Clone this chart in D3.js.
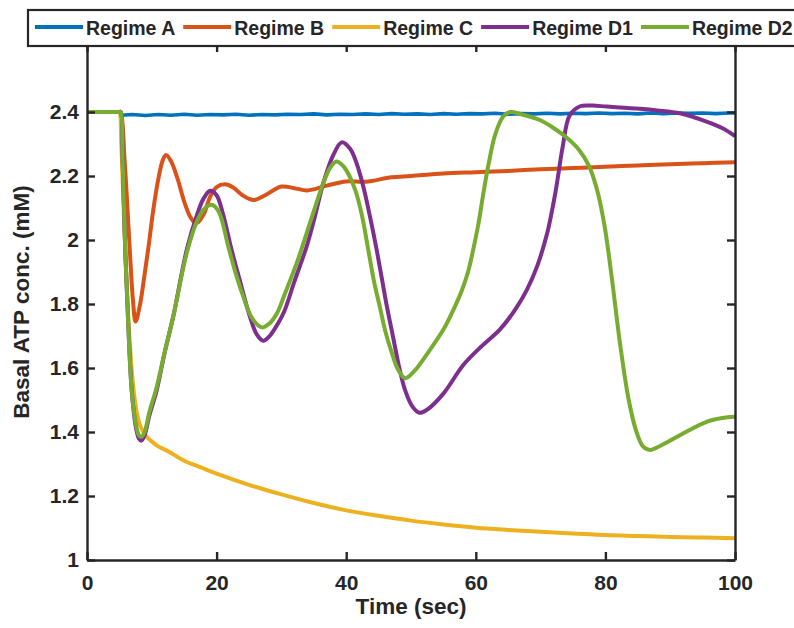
<!DOCTYPE html>
<html>
<head>
<meta charset="utf-8">
<script src="https://cdn.jsdelivr.net/npm/d3@7"></script>
<style>
  body { margin: 0; background: #fff; }
  svg { display: block; overflow: hidden; }
  text { font-family: "Liberation Sans", Arial, sans-serif; font-weight: bold; fill: #262626; }
</style>
</head>
<body>
<div id="chart"></div>
<script>

// Series names and tick labels
var seriesNames = ["Regime A", "Regime B", "Regime C", "Regime D1", "Regime D2"];
var xTicks = [0, 20, 40, 60, 80, 100];
var yTicks = [1, 1.2, 1.4, 1.6, 1.8, 2, 2.2, 2.4];

// Regime A (noisy flat)
var timeA = [0, 5, 5.3, 7, 9, 11, 13, 15, 17, 19, 21, 23, 25, 27, 29, 31, 33, 35, 37, 39, 41, 43, 45, 47, 49, 51, 53, 55, 57, 59, 61, 63, 65, 67, 69, 71, 73, 75, 77, 79, 81, 83, 85, 87, 89, 91, 93, 95, 97, 99, 100];
var valuesA = [2.4, 2.4, 2.39, 2.392, 2.389, 2.392, 2.39, 2.393, 2.39, 2.392, 2.391, 2.393, 2.39, 2.392, 2.391, 2.393, 2.392, 2.394, 2.391, 2.393, 2.392, 2.394, 2.392, 2.395, 2.393, 2.394, 2.392, 2.395, 2.393, 2.395, 2.394, 2.396, 2.393, 2.395, 2.394, 2.396, 2.394, 2.396, 2.395, 2.397, 2.395, 2.396, 2.394, 2.397, 2.395, 2.397, 2.396, 2.397, 2.395, 2.397, 2.397];

// Regime B
var timeB = [0, 4.7, 5.0, 5.2, 5.8, 6.6, 7.1, 7.5, 8.2, 8.8, 9.5, 10.2, 11, 11.7, 12.2, 13, 14, 15, 16, 16.9, 18, 19, 20, 21.3, 22.5, 24, 25.7, 27.5, 30, 32, 34, 37, 40, 43, 47, 50, 55, 60, 65, 70, 75, 80, 85, 90, 95, 100];
var valuesB = [2.4, 2.4, 2.4, 2.4, 2.25, 1.97, 1.81, 1.745, 1.8, 1.88, 1.98, 2.09, 2.19, 2.25, 2.266, 2.245, 2.19, 2.12, 2.07, 2.052, 2.08, 2.135, 2.165, 2.174, 2.165, 2.14, 2.125, 2.14, 2.167, 2.162, 2.155, 2.17, 2.183, 2.182, 2.196, 2.2, 2.208, 2.212, 2.216, 2.221, 2.225, 2.229, 2.233, 2.237, 2.24, 2.243];

// Regime C
var timeC = [0, 4.5, 4.8, 5, 5.3, 5.8, 6.4, 7, 7.6, 8.2, 9, 10, 11, 12.5, 15, 17.5, 20, 25, 30, 35, 40, 45, 50, 55, 60, 65, 70, 75, 80, 85, 90, 95, 100];
var valuesC = [2.4, 2.4, 2.4, 2.4, 2.3, 2.02, 1.75, 1.57, 1.47, 1.42, 1.39, 1.37, 1.355, 1.34, 1.31, 1.29, 1.27, 1.235, 1.205, 1.178, 1.155, 1.138, 1.123, 1.111, 1.101, 1.094, 1.088, 1.083, 1.078, 1.075, 1.072, 1.07, 1.068];

// Regime D1
var timeD1 = [0, 4.7, 5.0, 5.2, 5.5, 5.9, 6.4, 6.9, 7.5, 8, 8.4, 8.9, 9.6, 10.75, 12, 13.3, 15.4, 17, 18, 19, 20, 21, 22.3, 23.5, 25, 26.2, 27.2, 28.2, 29.5, 30.5, 32, 33.9, 35, 36.5, 38, 39.3, 40.6, 41.6, 42.6, 43.6, 44.6, 45.5, 46.3, 47.2, 48.2, 49.1, 50.2, 51.3, 52.5, 55, 58.1, 61, 63.7, 66, 67.9, 69.5, 71, 72.3, 73.4, 74.5, 76.1, 78, 80.2, 85.3, 88, 91.5, 95.6, 98, 100];
var valuesD1 = [2.4, 2.4, 2.4, 2.4, 2.25, 1.97, 1.72, 1.53, 1.42, 1.38, 1.373, 1.39, 1.45, 1.53, 1.65, 1.76, 1.97, 2.08, 2.13, 2.154, 2.14, 2.08, 1.97, 1.88, 1.77, 1.705, 1.685, 1.7, 1.74, 1.78, 1.87, 1.98, 2.06, 2.18, 2.265, 2.305, 2.285, 2.24, 2.17, 2.08, 1.98, 1.88, 1.79, 1.7, 1.6, 1.53, 1.48, 1.46, 1.47, 1.52, 1.61, 1.67, 1.72, 1.78, 1.845, 1.92, 2.02, 2.15, 2.29, 2.39, 2.418, 2.42, 2.417, 2.41, 2.405, 2.396, 2.37, 2.35, 2.325];

// Regime D2
var timeD2 = [0, 4.7, 5.0, 5.2, 5.5, 5.9, 6.4, 6.9, 7.5, 8, 8.4, 8.9, 9.6, 10.75, 12, 13.3, 15.4, 17, 18, 19.2, 20.3, 21.8, 22.8, 24, 25.5, 27, 28.2, 29.3, 30.5, 32.4, 33.4, 35, 36.5, 37.6, 38.5, 39.5, 40.5, 41.5, 42.5, 43.4, 44.3, 45.2, 46.1, 47, 48, 49.1, 50.5, 52.9, 55, 56.5, 57.8, 58.8, 59.6, 60.4, 61.2, 62, 63, 64.2, 65.3, 67, 69.9, 72, 74, 76, 77.5, 78.8, 79.9, 81, 82.3, 83.6, 84.8, 85.8, 86.9, 88.5, 91.5, 95.6, 98, 100];
var valuesD2 = [2.4, 2.4, 2.4, 2.4, 2.25, 1.97, 1.72, 1.53, 1.43, 1.39, 1.385, 1.4, 1.46, 1.54, 1.65, 1.76, 1.96, 2.06, 2.095, 2.11, 2.09, 1.98, 1.906, 1.83, 1.755, 1.727, 1.74, 1.77, 1.83, 1.93, 1.99, 2.09, 2.18, 2.228, 2.245, 2.232, 2.2, 2.15, 2.07, 1.97, 1.87, 1.79, 1.71, 1.65, 1.595, 1.568, 1.59, 1.656, 1.72, 1.78, 1.84, 1.9, 1.97, 2.05, 2.15, 2.24, 2.33, 2.385, 2.4, 2.393, 2.375, 2.35, 2.32, 2.28, 2.23, 2.15, 2.04, 1.88, 1.67, 1.5, 1.4, 1.355, 1.344, 1.357, 1.39, 1.432, 1.444, 1.448];

var seriesColors = ["#0072BD", "#D95319", "#EDB120", "#7E2F8E", "#77AC30"];


var chart = {

    settings : {
        width : 794,//px
        height : 628,//px
        left : 87,
        right : 735,
        top : 44,
        bottom : 560,
        yMax : 2.6125,
        ink : "#262626",
        tickLen : 8,
        tickFont : 21,
        labelFont : 22.5,
        legendFont : 19.5
    },

    draw : function(){
        var s = chart.settings;

        var svg = d3.select("#chart").append("svg")
            .attr("width", s.width)
            .attr("height", s.height);

        var x = d3.scaleLinear().domain([0, 100]).range([s.left, s.right]);
        var y = d3.scaleLinear().domain([1, s.yMax]).range([s.bottom, s.top]);

        svg.append("clipPath").attr("id", "plotClip")
            .append("rect")
            .attr("x", s.left).attr("y", s.top)
            .attr("width", s.right - s.left).attr("height", s.bottom - s.top);

        // Lines
        var smooth = d3.curveCatmullRom.alpha(0.5);
        var series = [
            { t : timeA, v : valuesA, curve : d3.curveLinear, w : 3.6 },
            { t : timeB, v : valuesB, curve : smooth, w : 4 },
            { t : timeC, v : valuesC, curve : smooth, w : 4 },
            { t : timeD1, v : valuesD1, curve : smooth, w : 4 },
            { t : timeD2, v : valuesD2, curve : smooth, w : 4 }
        ];

        var gLines = svg.append("g").attr("clip-path", "url(#plotClip)");
        series.forEach(function(d, i){
            var pts = d.t.map(function(t, k){ return [t, d.v[k]]; });
            var line = d3.line()
                .x(function(p){ return x(p[0]); })
                .y(function(p){ return y(p[1]); })
                .curve(d.curve);
            gLines.append("path")
                .datum(pts)
                .attr("d", line)
                .attr("fill", "none")
                .attr("stroke", seriesColors[i])
                .attr("stroke-width", d.w)
                .attr("stroke-linejoin", "round");
        });

        // Axes (box on, ticks inside)
        var fmt = function(d){ return String(d); };

        var gx = svg.append("g").attr("transform", "translate(0," + s.bottom + ")")
            .call(d3.axisBottom(x).tickValues(xTicks).tickFormat(fmt)
                .tickSizeInner(-s.tickLen).tickSizeOuter(0).tickPadding(15));
        var gy = svg.append("g").attr("transform", "translate(" + s.left + ",0)")
            .call(d3.axisLeft(y).tickValues(yTicks).tickFormat(fmt)
                .tickSizeInner(-s.tickLen).tickSizeOuter(0).tickPadding(8));
        var gt = svg.append("g").attr("transform", "translate(0," + s.top + ")")
            .call(d3.axisTop(x).tickValues(xTicks).tickFormat("")
                .tickSizeInner(-s.tickLen).tickSizeOuter(0));
        var gr = svg.append("g").attr("transform", "translate(" + s.right + ",0)")
            .call(d3.axisRight(y).tickValues(yTicks).tickFormat("")
                .tickSizeInner(-s.tickLen).tickSizeOuter(0));

        [gx, gy, gt, gr].forEach(function(g){
            g.select(".domain").attr("stroke", s.ink).attr("stroke-width", 2.4);
            g.selectAll(".tick line").attr("stroke", s.ink).attr("stroke-width", 2.4);
            g.selectAll(".tick text")
                .attr("fill", s.ink)
                .style("font-size", s.tickFont + "px")
                .style("font-family", "'Liberation Sans', Arial, sans-serif")
                .style("font-weight", "bold");
        });

        // Axis labels
        svg.append("text")
            .attr("x", (s.left + s.right) / 2)
            .attr("y", 614)
            .attr("text-anchor", "middle")
            .style("font-size", s.labelFont + "px")
            .text("Time (sec)");

        svg.append("text")
            .attr("transform", "translate(29," + ((s.top + s.bottom) / 2) + ") rotate(-90)")
            .attr("text-anchor", "middle")
            .style("font-size", s.labelFont + "px")
            .text("Basal ATP conc. (mM)");

        chart.addLegend(svg);
    },

    addLegend : function(svg){
        var s = chart.settings;
        var g = svg.append("g");

        g.append("rect")
            .attr("x", 28).attr("y", 10)
            .attr("width", 820).attr("height", 36)
            .attr("fill", "#fff")
            .attr("stroke", s.ink)
            .attr("stroke-width", 2.2);

        var cursor = 35;
        seriesNames.forEach(function(name, i){
            g.append("line")
                .attr("x1", cursor).attr("x2", cursor + 48)
                .attr("y1", 27).attr("y2", 27)
                .attr("stroke", seriesColors[i])
                .attr("stroke-width", 4);
            var txt = g.append("text")
                .attr("x", cursor + 51)
                .attr("y", 35)
                .style("font-size", s.legendFont + "px")
                .text(name);
            cursor = cursor + 51 + txt.node().getComputedTextLength() + 8;
        });
    }
};

chart.draw();
</script>
</body>
</html>
